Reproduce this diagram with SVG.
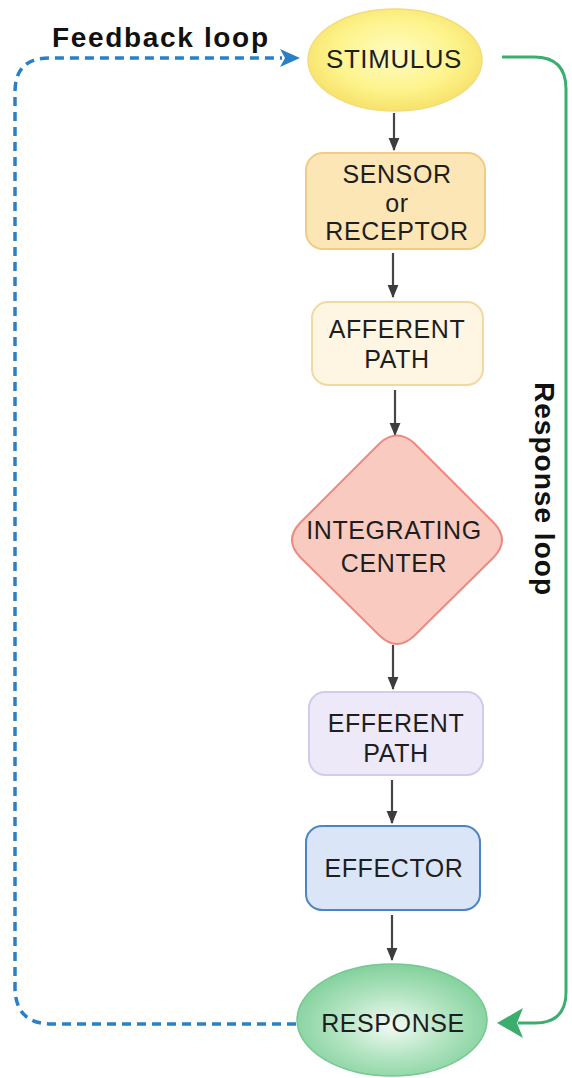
<svg xmlns="http://www.w3.org/2000/svg" width="572" height="1078" viewBox="0 0 572 1078">
  <style>
    .lbl { font-family: "Liberation Sans", Arial, Helvetica, sans-serif; font-size: 25px; letter-spacing: 0.6px; fill: #1e1e1e; text-anchor: middle; }
    .loop { font-family: "Liberation Sans", Arial, Helvetica, sans-serif; font-size: 28px; font-weight: bold; fill: #111; }
    .flow { stroke: #454545; stroke-width: 2.2; fill: none; marker-end: url(#arrowGray); }
    .feedback { stroke: #2a80c6; stroke-width: 3.5; fill: none; stroke-dasharray: 9 6; }
    .response-loop { stroke: #3bae6e; stroke-width: 3; fill: none; }
  </style>
  <defs>
    <marker id="arrowGray" viewBox="0 0 12 12" refX="11" refY="6" markerWidth="13" markerHeight="13" markerUnits="userSpaceOnUse" orient="auto">
      <path d="M0,1 L12,6 L0,11 Z" fill="#3c3c3c"/>
    </marker>
    <radialGradient id="gradStim" cx="0.5" cy="0.45" r="0.6">
      <stop offset="0" stop-color="#fffcc4"/>
      <stop offset="0.6" stop-color="#fdf38a"/>
      <stop offset="1" stop-color="#f5dd62"/>
    </radialGradient>
    <radialGradient id="gradResp" cx="0.5" cy="0.55" r="0.6">
      <stop offset="0" stop-color="#f2fbf4"/>
      <stop offset="0.5" stop-color="#b0e3bf"/>
      <stop offset="1" stop-color="#79cd95"/>
    </radialGradient>
  </defs>

  <!-- connectors -->
  <g id="connectors">
    <line class="flow" x1="394" y1="113" x2="394" y2="150"/>
    <line class="flow" x1="393" y1="253" x2="393" y2="297"/>
    <line class="flow" x1="395" y1="390" x2="395" y2="435"/>
    <line class="flow" x1="393" y1="645" x2="393" y2="689"/>
    <line class="flow" x1="392" y1="780" x2="392" y2="823"/>
    <line class="flow" x1="392" y1="915" x2="392" y2="960"/>

    <!-- feedback loop: response back to stimulus -->
    <path class="feedback" d="M296,1024 H52 Q15,1024 15,987 V92 Q15,58 49,58 H282"/>
    <path d="M300,58 L280,49 L285,58 L280,67 Z" fill="#2a80c6"/>

    <!-- response loop: stimulus around to response -->
    <path class="response-loop" d="M502,57 H534 Q566,57 566,89 V992 Q566,1023 535,1023 H518"/>
    <path d="M497,1023 L523,1008 L517,1023 L523,1038 Z" fill="#3bae6e"/>
  </g>

  <text class="loop" x="52" y="47" textLength="216" lengthAdjust="spacing">Feedback loop</text>
  <text class="loop" transform="translate(535,382) rotate(90)" x="0" y="0" textLength="213" lengthAdjust="spacing">Response loop</text>

  <g id="stimulus">
    <ellipse cx="395" cy="60" rx="87" ry="51" fill="url(#gradStim)" stroke="#f2dc78" stroke-width="1.5"/>
    <text class="lbl" x="394" y="68" textLength="136" lengthAdjust="spacingAndGlyphs">STIMULUS</text>
  </g>

  <g id="sensor">
    <rect x="306" y="153" width="179" height="96" rx="17" fill="#fde6b6" stroke="#f1cd83" stroke-width="2"/>
    <text class="lbl" x="397" y="183">SENSOR</text>
    <text class="lbl" x="397" y="212">or</text>
    <text class="lbl" x="397" y="240">RECEPTOR</text>
  </g>

  <g id="afferent">
    <rect x="312" y="302" width="171" height="83" rx="16" fill="#fef6e3" stroke="#f2d9a2" stroke-width="2"/>
    <text class="lbl" x="397" y="338">AFFERENT</text>
    <text class="lbl" x="397" y="368">PATH</text>
  </g>

  <g id="integrating-center">
    <path d="M380,443 Q397,428 414,443 L494,523 Q510,540 494,557 L414,636 Q397,652 380,636 L300,557 Q284,540 300,523 Z" fill="#f9cbc0" stroke="#ec8a80" stroke-width="2"/>
    <text class="lbl" x="394" y="539">INTEGRATING</text>
    <text class="lbl" x="394" y="572">CENTER</text>
  </g>

  <g id="efferent">
    <rect x="309" y="692" width="174" height="83" rx="16" fill="#ede9f8" stroke="#d3cbe9" stroke-width="2"/>
    <text class="lbl" x="396" y="732">EFFERENT</text>
    <text class="lbl" x="396" y="762">PATH</text>
  </g>

  <g id="effector">
    <rect x="306" y="826" width="174" height="84" rx="16" fill="#dae6f8" stroke="#4a86c6" stroke-width="2"/>
    <text class="lbl" x="394" y="877">EFFECTOR</text>
  </g>

  <g id="response">
    <ellipse cx="392" cy="1020" rx="95" ry="56" fill="url(#gradResp)" stroke="#74c890" stroke-width="1.5"/>
    <text class="lbl" x="393" y="1032">RESPONSE</text>
  </g>
</svg>
